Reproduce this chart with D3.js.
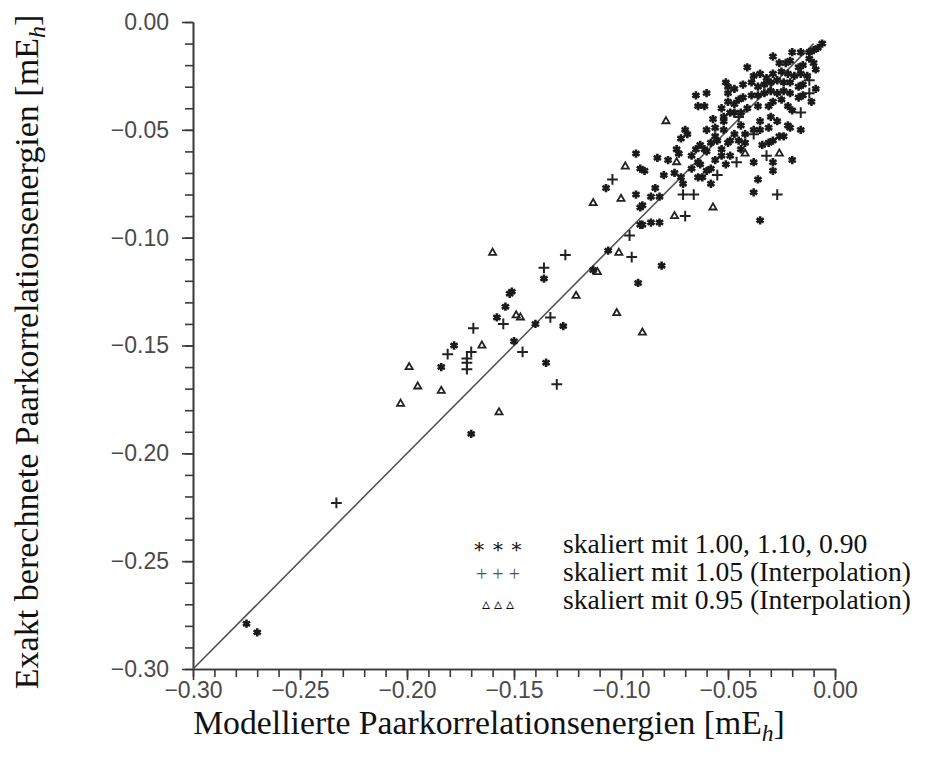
<!DOCTYPE html>
<html>
<head>
<meta charset="utf-8">
<script src="https://cdn.jsdelivr.net/npm/d3@7"></script>
<style>
  body { margin: 0; background: #fff; }
  svg { display: block; }
</style>
</head>
<body>
<div id="chart"></div>
<script>
// ---- data (mE_h) ----
var majorTicks = [-0.30, -0.25, -0.20, -0.15, -0.10, -0.05, 0.00];
var diagonal = [[-0.30, -0.30], [-0.01, -0.01]];

// "*" : skaliert mit 1.00, 1.10, 0.90
var starPts = [
  [-0.006,-0.010],[-0.008,-0.012],[-0.010,-0.013],[-0.012,-0.014],[-0.016,-0.014],[-0.020,-0.014],
  [-0.029,-0.016],[-0.026,-0.019],[-0.023,-0.019],[-0.021,-0.018],[-0.012,-0.017],[-0.010,-0.019],
  [-0.015,-0.020],[-0.017,-0.021],[-0.009,-0.022],[-0.041,-0.021],[-0.038,-0.025],[-0.035,-0.024],
  [-0.032,-0.026],[-0.029,-0.024],[-0.025,-0.023],[-0.022,-0.024],[-0.019,-0.025],[-0.016,-0.024],
  [-0.013,-0.025],[-0.051,-0.028],[-0.050,-0.030],[-0.047,-0.031],[-0.043,-0.029],[-0.039,-0.028],
  [-0.036,-0.030],[-0.033,-0.029],[-0.030,-0.028],[-0.027,-0.027],[-0.024,-0.028],[-0.021,-0.028],
  [-0.017,-0.030],[-0.015,-0.029],[-0.065,-0.034],[-0.060,-0.033],[-0.064,-0.039],[-0.061,-0.039],
  [-0.009,-0.031],[-0.011,-0.037],[-0.053,-0.040],[-0.050,-0.037],[-0.045,-0.036],[-0.043,-0.035],
  [-0.039,-0.034],[-0.036,-0.034],[-0.033,-0.033],[-0.030,-0.032],[-0.027,-0.033],[-0.024,-0.032],
  [-0.021,-0.033],[-0.017,-0.035],[-0.015,-0.034],[-0.057,-0.045],[-0.052,-0.044],[-0.047,-0.042],
  [-0.044,-0.042],[-0.041,-0.040],[-0.036,-0.039],[-0.031,-0.039],[-0.029,-0.037],[-0.025,-0.036],
  [-0.022,-0.039],[-0.020,-0.041],[-0.016,-0.050],[-0.021,-0.049],[-0.022,-0.048],[-0.024,-0.053],
  [-0.026,-0.053],[-0.029,-0.055],[-0.031,-0.056],[-0.034,-0.057],[-0.038,-0.050],[-0.042,-0.052],
  [-0.044,-0.048],[-0.035,-0.046],[-0.030,-0.044],[-0.027,-0.046],[-0.052,-0.050],[-0.056,-0.053],
  [-0.058,-0.056],[-0.061,-0.059],[-0.047,-0.052],[-0.049,-0.055],[-0.045,-0.055],[-0.042,-0.056],
  [-0.035,-0.050],[-0.031,-0.049],[-0.070,-0.050],[-0.069,-0.052],[-0.072,-0.054],[-0.065,-0.059],
  [-0.063,-0.057],[-0.060,-0.060],[-0.055,-0.055],[-0.053,-0.059],[-0.050,-0.056],[-0.060,-0.050],
  [-0.056,-0.049],[-0.052,-0.046],[-0.049,-0.042],[-0.047,-0.038],[-0.064,-0.065],[-0.063,-0.066],
  [-0.060,-0.069],[-0.058,-0.068],[-0.064,-0.072],[-0.062,-0.072],[-0.058,-0.075],[-0.074,-0.059],
  [-0.073,-0.061],[-0.080,-0.071],[-0.075,-0.070],[-0.072,-0.072],[-0.071,-0.075],[-0.093,-0.061],
  [-0.083,-0.063],[-0.091,-0.068],[-0.089,-0.069],[-0.107,-0.077],[-0.093,-0.080],[-0.086,-0.081],
  [-0.082,-0.081],[-0.084,-0.077],[-0.090,-0.085],[-0.091,-0.086],[-0.090,-0.094],[-0.086,-0.093],
  [-0.082,-0.093],[-0.020,-0.064],[-0.035,-0.092],[-0.029,-0.065],[-0.029,-0.069],[-0.036,-0.073],
  [-0.038,-0.079],[-0.038,-0.065],[-0.050,-0.033],[-0.053,-0.062],[-0.049,-0.062],[-0.044,-0.059],
  [-0.051,-0.066],[-0.056,-0.064],[-0.067,-0.062],[-0.067,-0.068],[-0.078,-0.064],
  [-0.106,-0.106],[-0.113,-0.115],[-0.091,-0.094],[-0.081,-0.113],[-0.092,-0.121],[-0.151,-0.125],
  [-0.152,-0.126],[-0.154,-0.132],[-0.158,-0.137],[-0.140,-0.140],[-0.127,-0.141],[-0.150,-0.148],
  [-0.178,-0.150],[-0.135,-0.158],[-0.184,-0.160],[-0.170,-0.191],[-0.136,-0.119],
  [-0.275,-0.279],[-0.270,-0.283]
];

// "+" : skaliert mit 1.05 (Interpolation)
var plusPts = [
  [-0.126,-0.108],[-0.136,-0.114],[-0.133,-0.137],[-0.155,-0.140],[-0.169,-0.142],[-0.181,-0.154],
  [-0.170,-0.153],[-0.172,-0.156],[-0.172,-0.158],[-0.172,-0.161],[-0.146,-0.153],[-0.130,-0.168],
  [-0.233,-0.223],[-0.095,-0.109],[-0.096,-0.099],[-0.104,-0.073],[-0.071,-0.080],[-0.066,-0.080],
  [-0.070,-0.090],[-0.046,-0.065],[-0.027,-0.080],[-0.012,-0.027],[-0.038,-0.052],[-0.016,-0.042],
  [-0.032,-0.062],[-0.055,-0.071],[-0.012,-0.033],[-0.045,-0.044]
];

// triangles : skaliert mit 0.95 (Interpolation)
var triPts = [
  [-0.160,-0.107],[-0.121,-0.127],[-0.149,-0.136],[-0.147,-0.137],[-0.165,-0.150],[-0.199,-0.160],
  [-0.195,-0.169],[-0.184,-0.171],[-0.203,-0.177],[-0.157,-0.181],[-0.111,-0.116],[-0.101,-0.107],
  [-0.102,-0.135],[-0.090,-0.144],[-0.079,-0.046],[-0.074,-0.065],[-0.098,-0.067],[-0.113,-0.084],
  [-0.100,-0.082],[-0.075,-0.090],[-0.057,-0.086],[-0.026,-0.061],[-0.042,-0.061]
];

var legendSymbols = ["\u2217 \u2217 \u2217", "+ + +", "\u25B5 \u25B5 \u25B5"];
var legendLabels = [
  "skaliert mit 1.00, 1.10, 0.90",
  "skaliert mit 1.05 (Interpolation)",
  "skaliert mit 0.95 (Interpolation)"
];

// ---- layout ----
var svgWidth = 929, svgHeight = 757;
var margin = { top: 22, right: 94, bottom: 88, left: 193 };
var width = svgWidth - margin.left - margin.right;
var height = svgHeight - margin.top - margin.bottom;

var svg = d3.select("#chart").append("svg")
  .attr("width", svgWidth)
  .attr("height", svgHeight);

var chartGroup = svg.append("g")
  .attr("transform", `translate(${margin.left}, ${margin.top})`);

var xScale = d3.scaleLinear().domain([-0.30, 0]).range([0, width]);
var yScale = d3.scaleLinear().domain([-0.30, 0]).range([height, 0]);

var minorTicks = d3.range(-30, 1).map(i => i / 100);
var fmt = d3.format(".2f");
var axisColor = "#3a3a3a";
var tickFont = "'Liberation Sans', Arial, sans-serif";

// minor ticks first, then major with labels
chartGroup.append("g")
  .attr("transform", `translate(0, ${height})`)
  .call(d3.axisBottom(xScale).tickValues(minorTicks).tickFormat("").tickSize(8).tickSizeOuter(0));
chartGroup.append("g")
  .call(d3.axisLeft(yScale).tickValues(minorTicks).tickFormat("").tickSize(8).tickSizeOuter(0));

var xAxis = chartGroup.append("g")
  .attr("transform", `translate(0, ${height})`)
  .call(d3.axisBottom(xScale).tickValues(majorTicks).tickFormat(fmt).tickSize(11).tickSizeOuter(0).tickPadding(2));
var yAxis = chartGroup.append("g")
  .call(d3.axisLeft(yScale).tickValues(majorTicks).tickFormat(fmt).tickSize(11).tickSizeOuter(0).tickPadding(13));

chartGroup.selectAll(".domain, .tick line")
  .attr("stroke", axisColor)
  .attr("stroke-width", 1.6);
chartGroup.selectAll(".tick text")
  .style("font-family", tickFont)
  .style("font-size", "23px")
  .attr("fill", "#4a4a4a");
xAxis.selectAll(".tick text").attr("dy", "0.68em");

// diagonal y = x
chartGroup.append("path")
  .datum(diagonal)
  .attr("d", d3.line().x(d => xScale(d[0])).y(d => yScale(d[1])))
  .attr("fill", "none")
  .attr("stroke", "#555")
  .attr("stroke-width", 1.6);

// markers
var starPath = d3.symbol().type(d3.symbolAsterisk).size(48);
var plusPath = d3.symbol().type(d3.symbolPlus).size(40);
var triPath = d3.symbol().type(d3.symbolTriangle2).size(36);

chartGroup.selectAll(".star")
  .data(starPts)
  .enter()
  .append("path")
  .attr("class", "star")
  .attr("d", starPath)
  .attr("transform", d => `translate(${xScale(d[0])}, ${yScale(d[1])})`)
  .attr("fill", "none")
  .attr("stroke", "#1a1a1a")
  .attr("stroke-width", 2.6);

chartGroup.selectAll(".plus")
  .data(plusPts)
  .enter()
  .append("path")
  .attr("class", "plus")
  .attr("d", plusPath)
  .attr("transform", d => `translate(${xScale(d[0])}, ${yScale(d[1])})`)
  .attr("fill", "none")
  .attr("stroke", "#222")
  .attr("stroke-width", 2);

chartGroup.selectAll(".tri")
  .data(triPts)
  .enter()
  .append("path")
  .attr("class", "tri")
  .attr("d", triPath)
  .attr("transform", d => `translate(${xScale(d[0])}, ${yScale(d[1])})`)
  .attr("fill", "none")
  .attr("stroke", "#222")
  .attr("stroke-width", 1.8);

// fit text to a measured width from the scan
function fitText(sel, target) {
  var size = parseFloat(sel.style("font-size"));
  var w = sel.node().getComputedTextLength();
  sel.style("font-size", (size * target / w) + "px");
}

var serif = "'Liberation Serif', 'DejaVu Serif', serif";

// axis titles
var xTitle = svg.append("text")
  .attr("x", 489)
  .attr("y", 734)
  .attr("text-anchor", "middle")
  .style("font-family", serif)
  .style("font-size", "28px")
  .attr("fill", "#111");
xTitle.append("tspan").text("Modellierte Paarkorrelationsenergien [mE");
xTitle.append("tspan").text("h").style("font-style", "italic").attr("dy", "0.3em").style("font-size", "0.7em");
xTitle.append("tspan").text("]").attr("dy", "-0.21em");
fitText(xTitle, 592);

var yTitle = svg.append("text")
  .attr("transform", "translate(38, 352) rotate(-90)")
  .attr("text-anchor", "middle")
  .style("font-family", serif)
  .style("font-size", "28px")
  .attr("fill", "#111");
yTitle.append("tspan").text("Exakt berechnete Paarkorrelationsenergien [mE");
yTitle.append("tspan").text("h").style("font-style", "italic").attr("dy", "0.3em").style("font-size", "0.7em");
yTitle.append("tspan").text("]").attr("dy", "-0.21em");
fitText(yTitle, 675);

// legend
var legend = svg.append("g");
var rowY = [553, 581, 609];
legendLabels.forEach(function(lbl, i) {
  legend.append("text")
    .attr("x", 498)
    .attr("y", rowY[i])
    .attr("text-anchor", "middle")
    .style("font-family", serif)
    .style("font-size", i === 2 ? "16px" : "20px")
    .attr("fill", i === 1 ? "#555" : "#111")
    .text(legendSymbols[i]);
  legend.append("text")
    .attr("class", "legend-label")
    .attr("x", 563)
    .attr("y", rowY[i])
    .style("font-family", serif)
    .style("font-size", "22px")
    .attr("fill", "#111")
    .text(lbl);
});
var refLabel = legend.selectAll(".legend-label").filter((d, i) => i === 1);
fitText(refLabel, 348);
legend.selectAll(".legend-label").style("font-size", refLabel.style("font-size"));
</script>
</body>
</html>
